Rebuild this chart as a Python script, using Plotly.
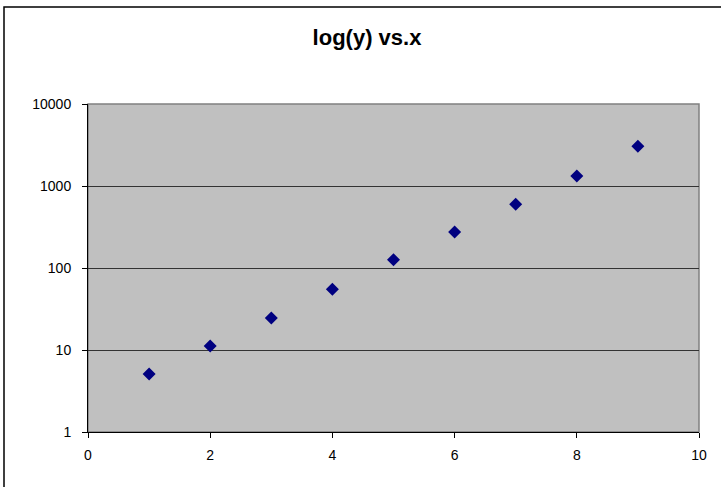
import plotly.graph_objects as go

x_vals = [1, 2, 3, 4, 5, 6, 7, 8, 9]
y_vals = [5.1, 11.2, 24.5, 55, 126, 275, 600, 1320, 3050]
title_text = "log(y) vs.x"
y_tick_vals = [1, 10, 100, 1000, 10000]
y_tick_text = ["1", "10", "100", "1000", "10000"]

W, H = 721, 487
L, R, T, B = 88, 22, 104, 55
pw, ph = W - L - R, H - T - B

fig = go.Figure()
fig.add_trace(go.Scatter(
    x=x_vals, y=y_vals, mode="markers",
    marker=dict(symbol="diamond", size=10, color="#000080",
                line=dict(width=0)),
    showlegend=False,
))

fig.update_layout(
    width=W, height=H,
    margin=dict(l=L, r=R, t=T, b=B),
    paper_bgcolor="white",
    plot_bgcolor="#C0C0C0",
    font=dict(family="Liberation Sans, Arial, sans-serif", size=14, color="black"),
    title=dict(text="<b>" + title_text + "</b>", x=367 / W, xanchor="center",
               y=1 - 37 / H, yanchor="middle",
               font=dict(size=22, family="Liberation Sans, Arial, sans-serif")),
    xaxis=dict(range=[0, 10], dtick=2, tick0=0, showgrid=False, zeroline=False,
               showline=True, linecolor="black", linewidth=1,
               ticks="outside", ticklen=5, tickcolor="black", tickwidth=1,
               ticklabelstandoff=5),
    yaxis=dict(type="log", range=[0, 4], tickvals=y_tick_vals, ticktext=y_tick_text,
               showgrid=True, gridcolor="#333333", gridwidth=1, zeroline=False,
               showline=True, linecolor="black", linewidth=1,
               ticks="outside", ticklen=5, tickcolor="black", tickwidth=1,
               ticklabelstandoff=8),
    shapes=[
        dict(type="rect", xref="paper", yref="paper", x0=0, x1=1, y0=0, y1=1,
             line=dict(color="#808080", width=1.5), layer="below"),
        dict(type="rect", xref="paper", yref="paper",
             x0=-84 / pw, x1=1 + 30 / pw, y0=-60 / ph, y1=1 + 97 / ph,
             line=dict(color="black", width=1.5), layer="above"),
    ],
)

fig.write_html("out.html", config={"displayModeBar": False},
               post_script="document.body.style.margin='0';")
